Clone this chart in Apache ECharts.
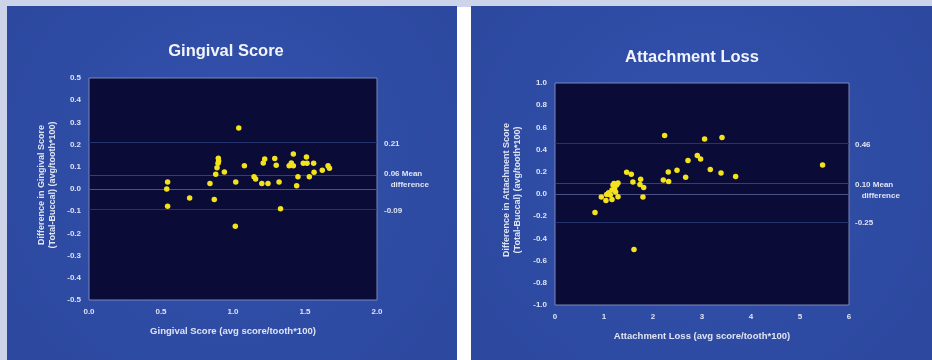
<!DOCTYPE html>
<html>
<head>
<meta charset="utf-8">
<script src="https://cdn.jsdelivr.net/npm/echarts@6/dist/echarts.min.js"></script>
<style>
html,body{margin:0;padding:0;background:#cdd3e8;}
#main{width:932px;height:360px;}
</style>
</head>
<body>
<div id="main"></div>
<script>
// ---- Data ----
const gingivalTitle = 'Gingival Score';
const gingivalXName = 'Gingival Score (avg score/tooth*100)';
const gingivalYName = 'Difference in Gingival Score\n(Total-Buccal) (avg/tooth*100)';
const gingivalX = [1.04,0.546,0.54,0.546,0.699,0.84,0.87,0.88,0.889,0.896,0.90,0.898,0.94,1.019,1.016,1.079,1.146,1.157,1.20,1.21,1.22,1.243,1.29,1.30,1.32,1.33,1.39,1.405,1.419,1.419,1.442,1.451,1.488,1.51,1.514,1.53,1.56,1.563,1.62,1.66,1.67];
const gingivalDiff = [0.275,0.032,0.0,-0.078,-0.04,0.025,-0.047,0.066,0.096,0.116,0.126,0.138,0.077,0.032,-0.168,0.105,0.055,0.045,0.025,0.117,0.135,0.025,0.137,0.107,0.032,-0.089,0.105,0.117,0.158,0.105,0.015,0.055,0.116,0.144,0.116,0.055,0.116,0.075,0.085,0.105,0.093];
const gingivalLimits = [0.21, 0.06, -0.09];
const gingivalXTicks = [0.0, 2.0, 0.5];   // min, max, interval
const gingivalYTicks = [-0.5, 0.5, 0.1];

const attachTitle = 'Attachment Loss';
const attachXName = 'Attachment Loss (avg score/tooth*100)';
const attachYName = 'Difference in Attachment Score\n(Total-Buccal) (avg/tooth*100)';
const attachX = [2.237,3.053,3.408,2.904,2.971,2.714,3.169,3.388,3.686,5.461,2.49,2.312,2.666,2.21,2.319,1.462,1.557,1.59,1.748,1.734,1.81,1.795,1.612,0.816,0.945,1.04,1.163,1.286,1.094,1.054,1.129,1.184,1.204,1.257,1.286,1.237,1.163,1.216];
const attachDiff = [0.527,0.496,0.509,0.347,0.316,0.302,0.221,0.19,0.158,0.262,0.215,0.199,0.152,0.127,0.113,0.197,0.179,0.107,0.134,0.086,0.059,-0.028,-0.499,-0.166,-0.028,-0.058,-0.049,-0.025,0.011,-0.004,-0.01,0.08,0.095,0.08,0.1,0.019,0.035,0.05];
const attachLimits = [0.46, 0.10, -0.25];
const attachXTicks = [0, 6, 1];
const attachYTicks = [-1.0, 1.0, 0.2];

// ---- Styles ----
const txt = '#dfe3f3';
const fontFam = '"Liberation Sans", Arial, sans-serif';
const plotBg = '#0a0c37';
const limitColors = ['#27336e', '#3a4450', '#27336e'];

const chart = echarts.init(document.getElementById('main'), null, {renderer: 'canvas'});

function pts(xs, ys){ return xs.map((x,i)=>[x, ys[i]]); }

function panelBg(x, w){
  return {
    type: 'rect', shape: {x: x, y: 6, width: w, height: 354}, z: -10,
    style: {fill: new echarts.graphic.RadialGradient(0.5, 0.45, 0.75, [
      {offset: 0, color: '#3453ae'}, {offset: 1, color: '#2c489f'}])}
  };
}

function xAxis(idx, t, dec){
  return {
    gridIndex: idx, type: 'value', min: t[0], max: t[1], interval: t[2],
    axisLine: {show: false}, axisTick: {show: false}, splitLine: {show: false},
    axisLabel: {color: txt, fontSize: 8, fontWeight: 'bold', fontFamily: fontFam, margin: 8,
      formatter: v => v.toFixed(dec)}
  };
}
function yAxis(idx, t, margin){
  return {
    gridIndex: idx, type: 'value', min: t[0], max: t[1], interval: t[2],
    axisLine: {show: false}, axisTick: {show: false}, splitLine: {show: false},
    axisLabel: {color: txt, fontSize: 8, fontWeight: 'bold', fontFamily: fontFam, margin: margin,
      formatter: v => v.toFixed(1)}
  };
}
function scatter(idx, data, limits){
  const lines = [{yAxis: 0, lineStyle: {color: '#4a5187', width: 1, type: 'solid'}}]
    .concat(limits.map((v,i)=>({yAxis: v, lineStyle: {color: limitColors[i], width: 1, type: 'solid'}})));
  return {
    type: 'scatter', xAxisIndex: idx, yAxisIndex: idx, data: data,
    symbol: 'circle', symbolSize: 5.5,
    itemStyle: {color: '#f4e31c', opacity: 1},
    markLine: {silent: true, symbol: 'none', label: {show: false}, data: lines, animation: false},
    z: 5
  };
}

const option = {
  animation: false,
  backgroundColor: '#cdd3e8',
  grid: [
    {left: 89, top: 78, width: 288, height: 222, show: true, backgroundColor: plotBg, borderColor: '#7a86bb', borderWidth: 1},
    {left: 555, top: 83, width: 294, height: 222, show: true, backgroundColor: plotBg, borderColor: '#7a86bb', borderWidth: 1}
  ],
  xAxis: [xAxis(0, gingivalXTicks, 1), xAxis(1, attachXTicks, 0)],
  yAxis: [yAxis(0, gingivalYTicks, 8), yAxis(1, attachYTicks, 8)],
  series: [scatter(0, pts(gingivalX, gingivalDiff), gingivalLimits), scatter(1, pts(attachX, attachDiff), attachLimits)],
  graphic: []
};
chart.setOption(option);

// ---- Text annotations positioned from the axes ----
function limitLabels(idx, xmax, limits, xOff, dy){
  const out = [];
  limits.forEach((v,i)=>{
    const p = chart.convertToPixel({gridIndex: idx}, [xmax, v]);
    const s = (i===1) ? v.toFixed(2) + ' Mean\n   difference' : v.toFixed(2);
    out.push({type: 'text', x: p[0] + xOff, y: p[1] - 4 + dy[i], z: 20,
      style: {text: s, fill: txt, font: 'bold 8px ' + fontFam, textAlign: 'left', textVerticalAlign: 'top', lineHeight: 11}});
  });
  return out;
}
function panelTexts(idx, title, xName, yName, cx, titleY, yNameX){
  const g = option.grid[idx];
  const midX = g.left + g.width/2;
  const midY = g.top + g.height/2;
  return [
    {type: 'text', x: cx, y: titleY, z: 20, style: {text: title, fill: '#f2f4fb', font: 'bold 16.5px ' + fontFam, textAlign: 'center', textVerticalAlign: 'middle'}},
    {type: 'text', x: midX, y: g.top + g.height + 31, z: 20, style: {text: xName, fill: txt, font: 'bold 9.5px ' + fontFam, textAlign: 'center', textVerticalAlign: 'middle'}},
    {type: 'text', x: yNameX, y: midY - 4, rotation: Math.PI/2, z: 20, style: {text: yName, fill: txt, font: 'bold 9px ' + fontFam, textAlign: 'center', textVerticalAlign: 'middle', lineHeight: 11}}
  ];
}

const graphics = [
  panelBg(7, 450),
  {type: 'rect', shape: {x: 457, y: 7, width: 14, height: 353}, z: -10, style: {fill: '#ffffff'}},
  panelBg(471, 461)
].concat(
  panelTexts(0, gingivalTitle, gingivalXName, gingivalYName, 226, 51, 47),
  panelTexts(1, attachTitle, attachXName, attachYName, 692, 57, 512),
  limitLabels(0, gingivalXTicks[1], gingivalLimits, 7, [0, -3, 0]),
  limitLabels(1, attachXTicks[1], attachLimits, 6, [0, 0, 0])
);
chart.setOption({graphic: graphics});
</script>
</body>
</html>
